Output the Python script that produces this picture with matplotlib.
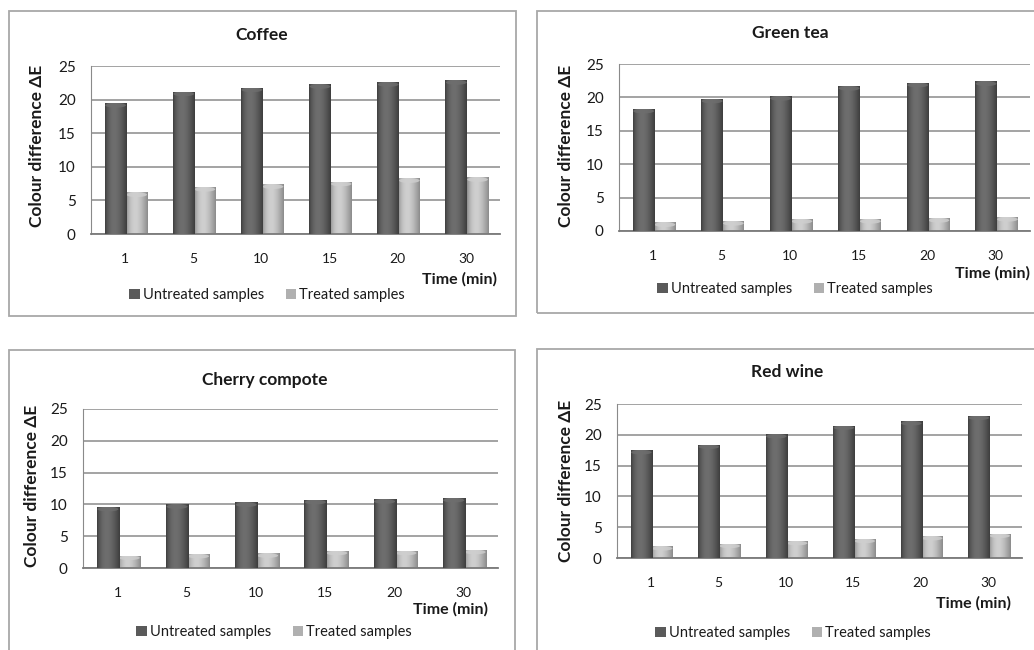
import numpy as np
import matplotlib
matplotlib.use('Agg')
import matplotlib.pyplot as plt
from matplotlib.colors import LinearSegmentedColormap
from matplotlib.patches import Rectangle, Ellipse

plt.rcParams['font.family'] = ['Lato', 'DejaVu Sans']
plt.rcParams['text.color'] = '#1a1a1a'

# Data (colour difference dE vs time)
times = ['1', '5', '10', '15', '20', '30']
titles = ['Coffee', 'Green tea', 'Cherry compote', 'Red wine']
series_names = ['Untreated samples', 'Treated samples']

coffee_untreated = [19.5, 21.2, 21.8, 22.3, 22.6, 22.9]
coffee_treated = [6.2, 7.0, 7.4, 7.8, 8.3, 8.45]
greentea_untreated = [18.3, 19.8, 20.2, 21.7, 22.2, 22.4]
greentea_treated = [1.3, 1.5, 1.8, 1.8, 1.95, 2.1]
cherry_untreated = [9.6, 10.0, 10.3, 10.7, 10.8, 11.0]
cherry_treated = [1.95, 2.2, 2.3, 2.7, 2.7, 2.85]
redwine_untreated = [17.5, 18.4, 20.1, 21.5, 22.2, 23.1]
redwine_treated = [1.9, 2.3, 2.75, 3.1, 3.55, 3.95]

untreated = [coffee_untreated, greentea_untreated, cherry_untreated, redwine_untreated]
treated = [coffee_treated, greentea_treated, cherry_treated, redwine_treated]

W, H = 1034, 650

# pixel layout of each panel: plot area, frame, title, y label, "Time (min)", legend
layout = [
    dict(ax=(91, 66, 500, 234), frame=(9, 11, 516, 316), title=(262, 35),
         ylab=(37, 146), time=(497, 279), leg=(267, 295)),
    dict(ax=(619, 64, 1030, 231), frame=(537, 11, 1060, 313), title=(790, 33),
         ylab=(566, 146), time=(1030, 273), leg=(795, 289)),
    dict(ax=(83, 409, 498, 568), frame=(9, 350, 515, 680), title=(265, 380),
         ylab=(32, 486), time=(488, 609), leg=(274, 632)),
    dict(ax=(617, 404, 1022, 558), frame=(537, 349, 1060, 680), title=(787, 372),
         ylab=(566, 481), time=(1011, 603), leg=(793, 633)),
]


def fx(x):
    return x / W


def fy(y):
    return 1 - y / H


def shade_bars(ax, bars, dark, light):
    # cylinder-like horizontal gradient clipped to each bar
    cmap = LinearSegmentedColormap.from_list('shade', [dark, light])
    t = np.linspace(0, 1, 64)
    grad = np.sin(np.pi * t ** 0.8)[None, :]
    for r in bars:
        x0, y0 = r.get_x(), r.get_y()
        w, h = r.get_width(), r.get_height()
        im = ax.imshow(grad, cmap=cmap, vmin=0, vmax=1, aspect='auto',
                       extent=[x0, x0 + w, y0, y0 + h], zorder=r.get_zorder() + 0.1)
        im.set_clip_path(r)
        cap = Ellipse((x0 + w / 2, y0 + h - 0.35), w * 0.95, 0.7,
                      facecolor=light, edgecolor='none', alpha=0.8,
                      zorder=r.get_zorder() + 0.2)
        ax.add_patch(cap)
        cap.set_clip_path(r)


fig = plt.figure(figsize=(W / 100, H / 100), dpi=100)

x = np.arange(len(times))
w = 0.32

for i, lay in enumerate(layout):
    # panel frame
    fx0, fy0, fx1, fy1 = lay['frame']
    fig.patches.append(Rectangle((fx(fx0), fy(fy1)), (fx1 - fx0) / W, (fy1 - fy0) / H,
                                 transform=fig.transFigure, fill=False,
                                 edgecolor='#a8a8a8', lw=1.3))

    x0, y0, x1, y1 = lay['ax']
    ax = fig.add_axes([fx(x0), fy(y1), (x1 - x0) / W, (y1 - y0) / H])

    b1 = ax.bar(x - 0.14, untreated[i], w, color='#5a5a5a', zorder=3, label=series_names[0])
    b2 = ax.bar(x + 0.17, treated[i], w, color='#b0b0b0', zorder=2, label=series_names[1])
    shade_bars(ax, b1, '#3e3e3e', '#6e6e6e')
    shade_bars(ax, b2, '#8c8c8c', '#cfcfcf')

    ax.set_xlim(-0.5, 5.5)
    ax.set_ylim(0, 25)
    ax.set_yticks([0, 5, 10, 15, 20, 25])
    ax.set_xticks(x)
    ax.set_xticklabels(times)
    ax.grid(axis='y', color='#8a8a8a', lw=1.1, zorder=0)
    ax.set_axisbelow(True)
    for s in ['top', 'right']:
        ax.spines[s].set_visible(False)
    ax.spines['left'].set_color('#8a8a8a')
    ax.spines['bottom'].set_color('#7a7a7a')
    ax.spines['bottom'].set_linewidth(1.3)
    ax.tick_params(axis='y', length=0, pad=11, labelsize=11, labelcolor='#1a1a1a')
    ax.tick_params(axis='x', length=0, pad=14, labelsize=10, labelcolor='#1a1a1a')

    fig.text(fx(lay['title'][0]), fy(lay['title'][1]), titles[i], ha='center', va='center',
             fontsize=12.5, fontweight='bold')
    fig.text(fx(lay['ylab'][0]), fy(lay['ylab'][1]), 'Colour difference ΔE', rotation=90,
             ha='center', va='center', fontsize=12.5, fontweight='bold')
    fig.text(fx(lay['time'][0]), fy(lay['time'][1]), 'Time (min)', ha='right', va='center',
             fontsize=11.5, fontweight='bold')

    ax.legend(handles=[b1, b2], loc='center', ncol=2, frameon=False,
              bbox_to_anchor=(fx(lay['leg'][0]), fy(lay['leg'][1])),
              bbox_transform=fig.transFigure, fontsize=10.5,
              handlelength=0.7, handleheight=0.7, handletextpad=0.2,
              columnspacing=1.5, borderpad=0)

fig.savefig('out.png', dpi=100)
